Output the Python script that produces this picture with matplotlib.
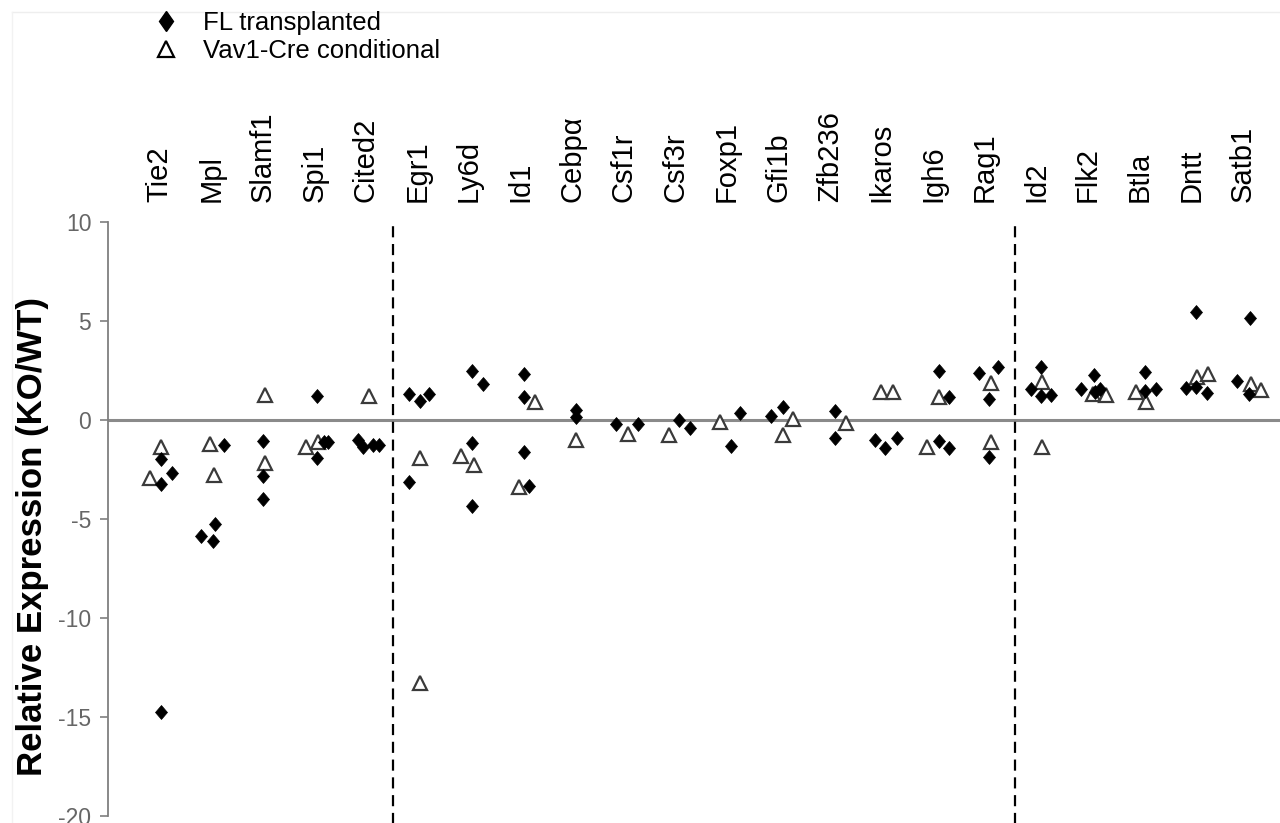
import matplotlib
matplotlib.use("Agg")
import matplotlib.pyplot as plt
import numpy as np
from matplotlib.lines import Line2D
from matplotlib.markers import MarkerStyle
from matplotlib.transforms import Affine2D

plt.rcParams["font.family"] = ["Liberation Sans", "DejaVu Sans"]
plt.rcParams["axes.unicode_minus"] = False

genes = ["Tie2", "Mpl", "Slamf1", "Spi1", "Cited2", "Egr1", "Ly6d", "Id1",
         "Cebpα", "Csf1r", "Csf3r", "Foxp1", "Gfi1b", "Zfb236", "Ikaros",
         "Igh6", "Rag1", "Id2", "Flk2", "Btla", "Dntt", "Satb1"]

# FL transplanted (filled diamonds), one list per gene
fl_values = [
    [-1.98, -2.69, -3.25, -14.75],
    [-1.26, -5.25, -5.86, -6.11],
    [-1.06, -2.83, -4.00],
    [1.21, -1.12, -1.12, -1.94],
    [-1.01, -1.38, -1.26, -1.26],
    [1.30, 0.96, 1.31, -3.15],
    [2.47, 1.80, -1.14, -4.33],
    [2.31, 1.18, -1.60, -3.32],
    [0.50, 0.13],
    [-0.20, -0.22],
    [0.00, -0.39],
    [0.36, -1.31],
    [0.22, 0.64],
    [0.45, -0.93],
    [-1.01, -1.43, -0.93],
    [2.49, 1.18, -1.04, -1.43],
    [2.39, 2.69, 1.04, -1.85],
    [2.66, 1.55, 1.21, 1.26],
    [1.55, 2.27, 1.43, 1.55],
    [2.44, 1.47, 1.55],
    [5.47, 1.60, 1.68, 1.35],
    [5.13, 1.99, 1.31],
]
# horizontal scatter of each point around its gene
fl_jitter = [
    [0.03, 0.25, 0.03, 0.02],
    [0.24, 0.07, -0.19, 0.03],
    [0.00, 0.00, 0.00],
    [0.05, 0.18, 0.26, 0.05],
    [-0.16, -0.06, 0.14, 0.25],
    [-0.17, 0.04, 0.23, -0.17],
    [0.06, 0.27, 0.06, 0.06],
    [0.06, 0.06, 0.06, 0.16],
    [0.07, 0.07],
    [-0.16, 0.28],
    [0.07, 0.28],
    [0.25, 0.07],
    [-0.15, 0.09],
    [0.10, 0.10],
    [-0.14, 0.06, 0.29],
    [0.11, 0.30, 0.11, 0.30],
    [-0.11, 0.25, 0.08, 0.08],
    [0.08, -0.11, 0.08, 0.29],
    [-0.13, 0.12, 0.13, 0.23],
    [0.11, 0.11, 0.31],
    [0.10, -0.10, 0.10, 0.31],
    [0.14, -0.11, 0.12],
]

# Vav1-Cre conditional (open triangles)
vav_values = [
    [-1.38, -2.95],
    [-1.23, -2.78],
    [1.26, -2.16],
    [-1.35, -1.10],
    [1.21],
    [-1.94, -13.30],
    [-1.82, -2.27],
    [0.93, -3.37],
    [-1.01],
    [-0.71],
    [-0.76],
    [-0.08],
    [0.03, -0.76],
    [-0.17],
    [1.43, 1.43],
    [1.18, -1.35],
    [1.88, -1.10],
    [1.93, -1.35],
    [1.30, 1.26],
    [1.43, 0.93],
    [2.19, 2.32],
    [1.82, 1.51],
]
vav_jitter = [
    [0.03, -0.19],
    [-0.03, 0.05],
    [0.04, 0.04],
    [-0.17, 0.08],
    [0.06],
    [0.05, 0.04],
    [-0.16, 0.09],
    [0.27, -0.03],
    [0.08],
    [0.08],
    [-0.12],
    [-0.13],
    [0.28, 0.09],
    [0.30],
    [-0.01, 0.21],
    [0.11, -0.13],
    [0.11, 0.11],
    [0.10, 0.10],
    [0.09, 0.34],
    [-0.08, 0.12],
    [0.11, 0.33],
    [0.16, 0.36],
]

group_breaks = [4.52, 16.58]


def flatten(values, jitter):
    xs, ys = [], []
    for i, (vals, offs) in enumerate(zip(values, jitter)):
        for v, o in zip(vals, offs):
            xs.append(i + o)
            ys.append(v)
    return np.array(xs), np.array(ys)


fl_x, fl_y = flatten(fl_values, fl_jitter)
vav_x, vav_y = flatten(vav_values, vav_jitter)

fig = plt.figure(figsize=(12.8, 8.23), dpi=100)
ax = fig.add_axes([108 / 1280, 7 / 823, 1 - 108 / 1280, (816 - 222) / 823])

diamond = MarkerStyle("D", transform=Affine2D().scale(0.88, 1.0))

ax.axhline(0, color="#8a8a8a", lw=2.2, zorder=1)
ax.vlines(group_breaks, -20.5, 9.8, colors="black", linestyles=(0, (5, 3)),
          lw=1.6, zorder=1, clip_on=False)

ax.plot(vav_x, vav_y, linestyle="none", marker="^", ms=10.5, mfc="white",
        mec="#3a3a3a", mew=1.6, zorder=3, label="Vav1-Cre conditional")
ax.plot(fl_x, fl_y, linestyle="none", marker=diamond, ms=7.4, mfc="black",
        mec="black", mew=0.5, zorder=4, label="FL transplanted")

for i, g in enumerate(genes):
    ax.text(i, 11.0, g, rotation=90, ha="center", va="bottom", fontsize=21)

ax.set_xlim(-1.0, 21.72)
ax.set_ylim(-20, 10)
ax.set_xticks([])
ax.set_yticks(range(-20, 11, 5))
for s in ["top", "right", "bottom"]:
    ax.spines[s].set_visible(False)
ax.spines["left"].set_color("#7f7f7f")
ax.spines["left"].set_linewidth(1.3)
ax.tick_params(axis="y", direction="out", length=6, width=1.2, color="#7f7f7f",
               labelcolor="#666666", labelsize=16.5, pad=6)

fig.text(33 / 1280, 1 - 536 / 823, "Relative Expression (KO/WT)", rotation=90,
         ha="center", va="center", fontsize=25, fontweight="bold")

legend_diamond = MarkerStyle("D", transform=Affine2D().scale(0.7, 1.0))
handles = [
    Line2D([], [], linestyle="none", marker=legend_diamond, ms=10, mfc="black",
           mec="black"),
    Line2D([], [], linestyle="none", marker="^", ms=11, mfc="white",
           mec="black", mew=1.6),
]
fig.legend(handles, ["FL transplanted", "Vav1-Cre conditional"],
           loc="upper left", bbox_to_anchor=(153 / 1280, 1 - 11 / 823),
           frameon=False, fontsize=18.5, borderpad=0, borderaxespad=0,
           handlelength=1.0, handletextpad=0.94, labelspacing=0.16)

# faint frame seen along the top and left of the source image
fig.add_artist(Line2D([12 / 1280, 1], [1 - 12 / 823] * 2, color="#eeeeee", lw=1))
fig.add_artist(Line2D([12 / 1280] * 2, [0, 1 - 12 / 823], color="#f2f2f2", lw=1))

fig.savefig("out.png", dpi=100)
